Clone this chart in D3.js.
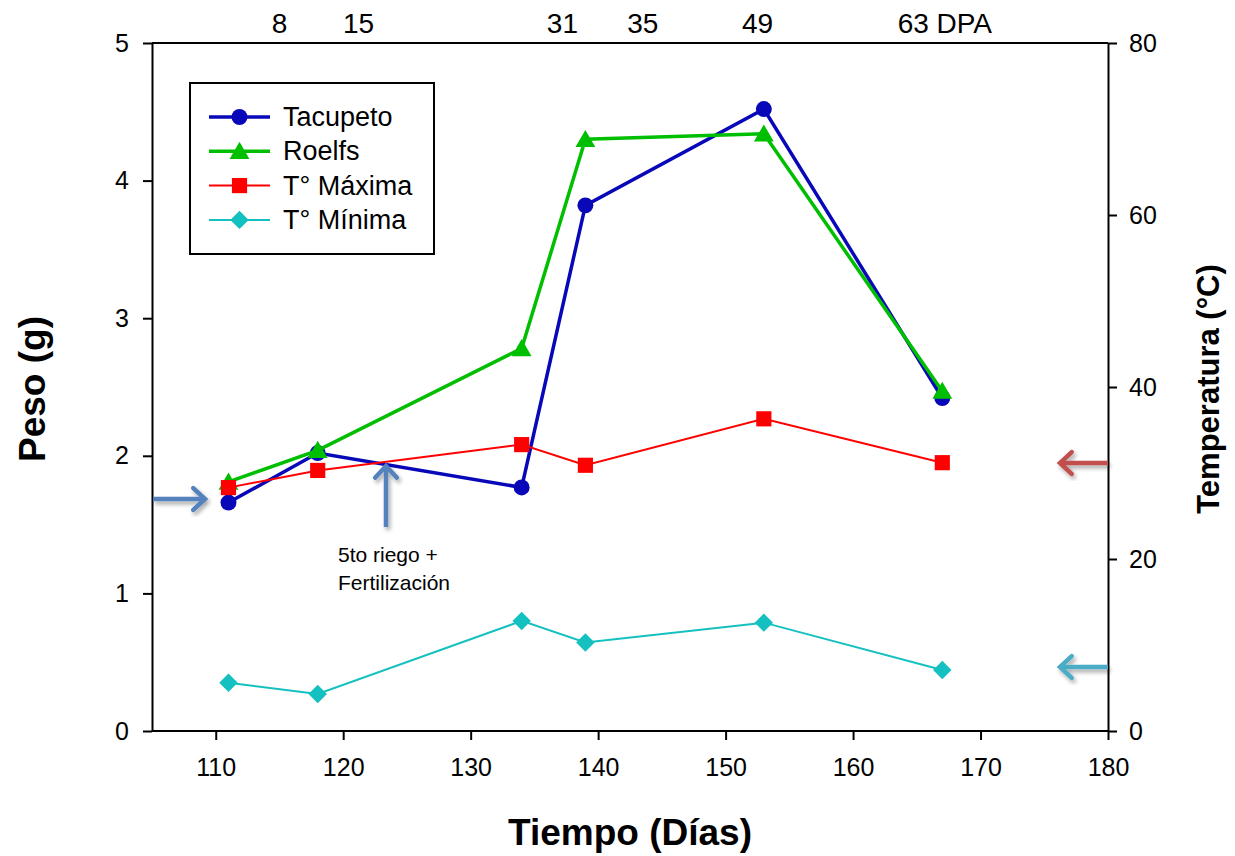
<!DOCTYPE html>
<html><head><meta charset="utf-8">
<script src="https://cdn.jsdelivr.net/npm/d3@7"></script>
<style>body{margin:0;background:#fff;} svg{display:block;font-family:"Liberation Sans",Arial,sans-serif;}</style>
</head><body>
<svg id="c" width="1235" height="856"></svg>
<script>
const days = [111, 118, 134, 139, 153, 167];
const tacupeto = [1.66, 2.02, 1.77, 3.82, 4.52, 2.42];
const roelfs = [1.81, 2.04, 2.78, 4.30, 4.34, 2.47];
const tMax = [28.3, 30.3, 33.3, 30.9, 36.3, 31.2];
const tMin = [5.6, 4.3, 12.8, 10.3, 12.6, 7.1];
const xTicks = [110, 120, 130, 140, 150, 160, 170, 180];
const yLeftTicks = [0, 1, 2, 3, 4, 5];
const yRightTicks = [0, 20, 40, 60, 80];
const dpaLabels = ["8", "15", "31", "35", "49", "63 DPA"];
const dpaPos = [115, 121.2, 137.2, 143.5, 152.5, 167.2];
const seriesNames = ["Tacupeto", "Roelfs", "T° Máxima", "T° Mínima"];

const svg = d3.select("#c");
const L = 152, R = 1108, T = 43, B = 731;
const x = d3.scaleLinear().domain([105, 180]).range([L, R]);
const yL = d3.scaleLinear().domain([0, 5]).range([B, T]);
const yR = d3.scaleLinear().domain([0, 80]).range([B, T]);

const defs = svg.append("defs");
const f = defs.append("filter").attr("id", "sh").attr("x", "-30%").attr("y", "-30%").attr("width", "160%").attr("height", "160%");
f.append("feGaussianBlur").attr("in", "SourceAlpha").attr("stdDeviation", 2);
f.append("feOffset").attr("dx", 2).attr("dy", 3).attr("result", "o");
f.append("feComponentTransfer").append("feFuncA").attr("type", "linear").attr("slope", 0.35);
const m = f.append("feMerge"); m.append("feMergeNode"); m.append("feMergeNode").attr("in", "SourceGraphic");

svg.append("line").attr("x1", L).attr("x2", R).attr("y1", T).attr("y2", T).attr("stroke", "#000").attr("stroke-width", 2);

const fs = "25px";
const ax = svg.append("g").attr("transform", `translate(0,${B})`).call(d3.axisBottom(x).tickValues(xTicks).tickSize(9).tickSizeOuter(0).tickPadding(18).tickFormat(d3.format("d")));
const al = svg.append("g").attr("transform", `translate(${L},0)`).call(d3.axisLeft(yL).tickValues(yLeftTicks).tickSize(9).tickSizeOuter(0).tickPadding(14).tickFormat(d3.format("d")));
const ar = svg.append("g").attr("transform", `translate(${R},0)`).call(d3.axisRight(yR).tickValues(yRightTicks).tickSize(9).tickSizeOuter(0).tickPadding(12).tickFormat(d3.format("d")));
[ax, al, ar].forEach(g => {
  g.select(".domain").attr("stroke-width", 2);
  g.selectAll(".tick line").attr("stroke-width", 2);
  g.selectAll("text").style("font-size", fs).style("font-family", "Liberation Sans, Arial, sans-serif").attr("fill", "#000");
});
ax.select(".domain").attr("d", `M${L},0H${R}`);

svg.append("g").selectAll("text").data(dpaLabels).join("text")
  .attr("x", (d, i) => x(dpaPos[i])).attr("y", 33).attr("text-anchor", "middle")
  .style("font-size", "28px").text(d => d);

svg.append("text").attr("x", 630).attr("y", 845).attr("text-anchor", "middle").style("font-size", "37px").style("font-weight", "bold").text("Tiempo (Días)");
svg.append("text").attr("transform", "translate(45,389) rotate(-90)").attr("text-anchor", "middle").style("font-size", "37px").style("font-weight", "bold").text("Peso (g)");
svg.append("text").attr("transform", "translate(1219,389) rotate(-90)").attr("text-anchor", "middle").style("font-size", "31px").style("font-weight", "bold").text("Temperatura (°C)");

const series = [
  {name: seriesNames[0], vals: tacupeto, y: yL, color: "#0808b8", w: 3.5, sym: d3.symbolCircle, size: 200, rot: 0, dy: 0},
  {name: seriesNames[1], vals: roelfs, y: yL, color: "#00bf00", w: 3.5, sym: d3.symbolTriangle, size: 170, rot: 0, dy: 2},
  {name: seriesNames[2], vals: tMax, y: yR, color: "#ff0000", w: 2, sym: d3.symbolSquare, size: 230, rot: 0, dy: 0},
  {name: seriesNames[3], vals: tMin, y: yR, color: "#14c0c0", w: 2, sym: d3.symbolSquare, size: 170, rot: 45, dy: 0}
];
const line = (s) => d3.line().x((d, i) => x(days[i])).y(d => s.y(d));
series.forEach(s => {
  svg.append("path").datum(s.vals).attr("d", line(s)).attr("fill", "none").attr("stroke", s.color).attr("stroke-width", s.w);
  svg.append("g").selectAll("path").data(s.vals).join("path")
    .attr("transform", (d, i) => `translate(${x(days[i])},${s.y(d) + s.dy}) rotate(${s.rot})`)
    .attr("d", d3.symbol(s.sym, s.size)).attr("fill", s.color);
});

const lg = svg.append("g");
lg.append("rect").attr("x", 190).attr("y", 83).attr("width", 244).attr("height", 171).attr("fill", "#fff").attr("stroke", "#000").attr("stroke-width", 2);
series.forEach((s, i) => {
  const yy = 117 + i * 34.3;
  lg.append("line").attr("x1", 209).attr("x2", 270).attr("y1", yy).attr("y2", yy).attr("stroke", s.color).attr("stroke-width", s.w);
  lg.append("path").attr("transform", `translate(239.5,${yy + s.dy}) rotate(${s.rot})`).attr("d", d3.symbol(s.sym, s.size)).attr("fill", s.color);
  lg.append("text").attr("x", 283).attr("y", yy + 9).style("font-size", "27px").text(s.name);
});

function arrow(x1, y1, x2, y2, color) {
  const g = svg.append("g").attr("filter", "url(#sh)");
  const ang = Math.atan2(y2 - y1, x2 - x1), h = 16;
  g.append("line").attr("x1", x1).attr("y1", y1).attr("x2", x2).attr("y2", y2).attr("stroke", color).attr("stroke-width", 4.5);
  const p = d3.path();
  p.moveTo(x2 - h * Math.cos(ang - 0.75), y2 - h * Math.sin(ang - 0.75));
  p.lineTo(x2, y2);
  p.lineTo(x2 - h * Math.cos(ang + 0.75), y2 - h * Math.sin(ang + 0.75));
  g.append("path").attr("d", p.toString()).attr("fill", "none").attr("stroke", color).attr("stroke-width", 4.5).attr("stroke-linecap", "round").attr("stroke-linejoin", "miter");
}
arrow(153, 499, 205, 499, "#5582bd");
arrow(386, 527, 386, 466, "#5582bd");
arrow(1108, 463, 1060, 463, "#c0504d");
arrow(1108, 667, 1060, 667, "#4bacc6");

svg.append("text").attr("x", 338).attr("y", 562).style("font-size", "21px").text("5to riego +");
svg.append("text").attr("x", 338).attr("y", 590).style("font-size", "21px").text("Fertilización");
</script>
</body></html>
